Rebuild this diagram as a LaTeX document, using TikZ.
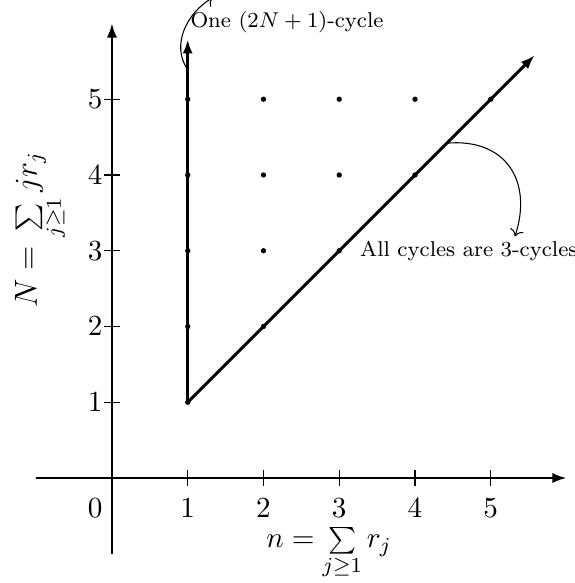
\RequirePackage{fix-cm}
\documentclass[tikz,border=0pt]{standalone}
\usetikzlibrary{arrows.meta}
\begin{document}
\begin{tikzpicture}[
  axis/.style={line width=0.8pt,-{Latex[length=5.3pt,width=3.8pt]}},
  ray/.style={line width=1.1pt,-{Latex[length=5.3pt,width=3.8pt]}},
  tickmark/.style={line width=0.4pt},
  dot/.style={circle,fill,inner sep=0pt,minimum size=2pt},
  ticklabel/.style={font=\fontsize{10.95}{13}\selectfont},
  note/.style={inner sep=0pt, anchor=base west, font=\fontsize{8.05}{10}\selectfont},
  pointer/.style={line width=0.4pt,->}
]
\useasboundingbox (-1.478,-1.386) rectangle (6.112,6.310);
\coordinate (xs) at (-1,0); \coordinate (xe) at (6,0);
\coordinate (ys) at (0,-1); \coordinate (ye) at (0,6);
\draw[axis] (xs) -- (xe);
\draw[axis] (ys) -- (ye);
\foreach \k in {1,...,5} {
  \draw[tickmark] (\k,0.1) -- (\k,-0.1);
  \node[ticklabel, below] (xl\k) at (\k,-0.15) {$\k$};
  \draw[tickmark] (-0.1,\k) -- (0.1,\k);
  \node[ticklabel, left] (yl\k) at (0,\k) {$\k$};
}
\node[ticklabel, below left] (zero) at (0,-0.15) {$0$};
\foreach \x in {1,...,5} {
  \foreach \y in {\x,...,5} {
    \node[dot] (d\x\y) at (\x,\y) {};
  }
}
\coordinate (vtip) at (1,5.79);
\coordinate (dtip) at (5.58,5.58);
\draw[ray] (d11.center) -- (vtip);
\draw[ray] (d11.center) -- (dtip);
% annotations
\coordinate (vstart) at (1,5.39);
\node[note] (onecyc) at (1.03,5.95) {One $(2N+1)$-cycle};
\coordinate (vend) at (1.33,6.34);
\draw[pointer] (vstart) to[out=125,in=210] (vend);
\coordinate (dstart) at (4.42,4.42);
\node[note] (allcyc) at (3.27,2.92) {All cycles are 3-cycles};
\coordinate (dend) at (5.32,3.19);
\draw[pointer] (dstart) to[out=5,in=72,looseness=1.3] (dend);
% axis labels
\node[rotate=90, anchor=base west, inner sep=0pt, font=\fontsize{12}{14}\selectfont] (ylab) at (-0.99,2.24) {$N = \sum\limits_{j\geq 1} j r_j$};
\node[anchor=base west, inner sep=0pt, font=\fontsize{10.95}{13}\selectfont] (xlab) at (2.03,-0.92) {$n = \sum\limits_{j\geq 1} r_j$};
\end{tikzpicture}
\end{document}
